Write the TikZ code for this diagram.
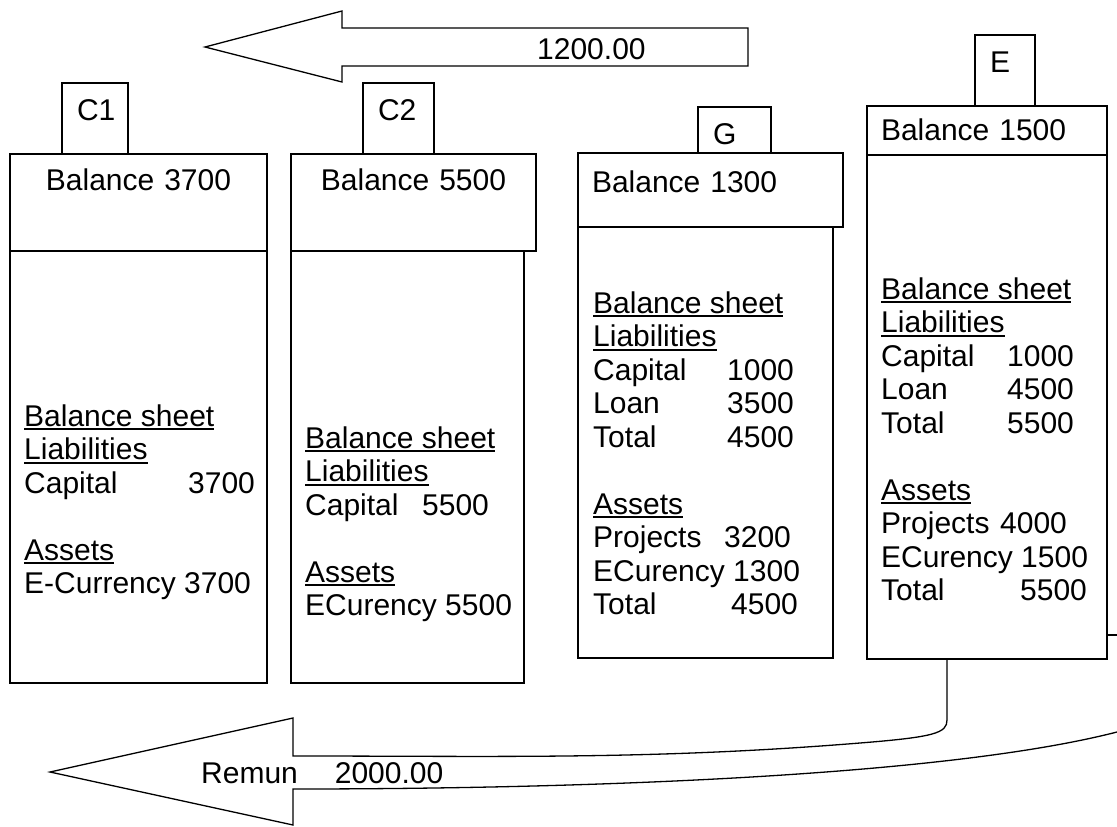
\documentclass[tikz,border=0pt]{standalone}
\usepackage{fontspec}
\setmainfont{Liberation Sans}
\usepackage{tikz}

\newcommand{\undl}[1]{\setbox0\hbox{#1}\rlap{\rule[-4pt]{\wd0}{1.8pt}}\box0}
\newcommand{\accrow}[3]{\makebox[#2pt][l]{#1}#3}

\tikzset{
  tabbox/.style={draw, line width=1.3pt, anchor=north west, outer sep=0pt, inner xsep=15pt, inner ysep=0pt, align=left, text height=37.7pt},
  headbox/.style={draw, line width=1.8pt, anchor=north west, outer sep=0pt, inner xsep=14pt, inner ysep=0pt},
  bodybox/.style={draw, line width=1.8pt, anchor=north west, outer sep=0pt, inner sep=0pt},
  sheet/.style={anchor=north west, inner sep=0pt, align=left},
  amount/.style={anchor=base west, inner sep=0pt},
  blockarrow/.style={draw, line width=1.3pt, line join=miter}
}

\begin{document}
\begin{tikzpicture}[x=1pt, y=-1pt, font=\fontsize{30}{33.5}\selectfont]
  \useasboundingbox[fill=white] (0,0) rectangle (1117,827);
  %% Account C1
  \node[tabbox, text width=36pt, text depth=33.3pt] (c1tab) at (62,83) {C1};
  \node[headbox, text width=229pt, align=center, text height=36.7pt, text depth=60.3pt] (c1head) at (10,154) {Balance 3700};
  \node[bodybox, minimum width=257pt, minimum height=432pt] (c1body) at (10,251) {};
  \node[sheet] (c1sheet) at (24,404.3) {\undl{Balance sheet}\\ \undl{Liabilities}\\ \accrow{Capital}{164}{3700}\\[33.5pt]
    \undl{Assets}\\ E-Currency 3700};
  %% Account C2
  \node[tabbox, text width=41pt, text depth=33.3pt] (c2tab) at (363,83) {C2};
  \node[headbox, text width=217pt, align=center, text height=36.7pt, text depth=60.3pt] (c2head) at (291,154) {Balance 5500};
  \node[bodybox, line width=1.4pt, minimum width=233pt, minimum height=432pt] (c2body) at (291,251) {};
  \node[sheet] (c2sheet) at (305,426.3) {\undl{Balance sheet}\\ \undl{Liabilities}\\ \accrow{Capital}{117}{5500}\\[33.5pt]
    \undl{Assets}\\ ECurency 5500};
  %% Account G
  \node[tabbox, text width=43pt, text depth=8.3pt] (gtab) at (698,107) {G};
  \node[headbox, text width=237pt, align=left, text height=39.7pt, text depth=34.3pt] (ghead) at (578,153) {Balance 1300};
  \node[bodybox, line width=1.4pt, minimum width=255pt, minimum height=431pt] (gbody) at (578,227) {};
  \node[sheet] (gsheet) at (593,291.3) {\undl{Balance sheet}\\ \undl{Liabilities}\\ \accrow{Capital}{134}{1000}\\
    \accrow{Loan}{134}{3500}\\ \accrow{Total}{134}{4500}\\[33.5pt]
    \undl{Assets}\\ \accrow{Projects}{131}{3200}\\ ECurency 1300\\ \accrow{Total}{138}{4500}};
  %% Account E
  \node[tabbox, text width=30pt, text depth=33.3pt] (etab) at (975,35) {E};
  \node[headbox, text width=212pt, align=left, text height=34.7pt, text depth=14.3pt] (ehead) at (867,106) {Balance 1500};
  \node[bodybox, minimum width=240pt, minimum height=504pt] (ebody) at (867,155) {};
  \node[sheet] (esheet) at (881,277.3) {\undl{Balance sheet}\\ \undl{Liabilities}\\ \accrow{Capital}{126}{1000}\\
    \accrow{Loan}{126}{4500}\\ \accrow{Total}{126}{5500}\\[33.5pt]
    \undl{Assets}\\ \accrow{Projects}{119}{4000}\\ ECurency 1500\\ \accrow{Total}{139}{5500}};
  %% Transfer 1200.00
  \draw[blockarrow] (748,28) -- (342,28) -- (342,11) -- (205,47) -- (342,82) -- (342,66) -- (748,66) -- cycle;
  \node[amount] (transfer) at (537,59) {1200.00};
  %% Remun 2000.00
  \draw[blockarrow] (947,659) -- (947,720) .. controls (947,733) and (935,737) .. (860,743)
    .. controls (650,760) and (500,756) .. (293,756) -- (293,718) -- (50,772) -- (293,825) -- (293,789)
    .. controls (600,789) and (950,775) .. (1117,732);
  \draw[blockarrow] (1107,635) -- (1117,635);
  \node[amount] (remun) at (201,783) {Remun\hspace{37pt}2000.00};
\end{tikzpicture}
\end{document}
